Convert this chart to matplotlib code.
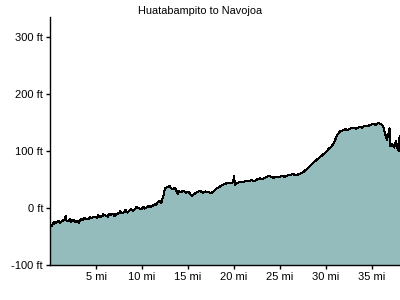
import matplotlib
matplotlib.use("Agg")
import matplotlib.pyplot as plt

# elevation profile, miles vs feet
miles = [0.0, 0.1, 0.2, 0.3, 0.4, 0.5, 0.6, 0.8, 1.0, 1.1, 1.2, 1.4, 1.6, 1.7, 1.8, 2.0,
         2.2, 2.3, 2.6, 2.8, 3.0, 3.1, 3.3, 3.6, 3.7, 3.9, 4.2, 4.3, 4.5, 4.8,
         5.1, 5.2, 5.4, 5.7, 5.8, 6.0, 6.3, 6.4, 6.6, 6.9, 7.0, 7.2, 7.5, 7.6,
         7.8, 8.1, 8.2, 8.4, 8.7, 8.8, 9.0, 9.3, 9.4, 9.6, 9.9, 10.2, 10.3,
         10.5, 10.8, 10.9, 11.1, 11.4, 11.5, 11.7, 12.0, 12.1, 12.2, 12.3, 12.5,
         12.8, 13.0, 13.3, 13.6, 13.9, 14.0, 14.2, 14.5, 14.8, 15.1, 15.4, 15.7,
         16.0, 16.3, 16.6, 16.9, 17.2, 17.5, 17.8, 18.1, 18.4, 18.7, 19.0, 19.3,
         19.6, 19.9, 20.0, 20.1, 20.4, 20.7, 21.0, 21.3, 21.6, 21.9, 22.2, 22.5,
         22.8, 23.1, 23.4, 23.7, 24.0, 24.3, 24.6, 24.9, 25.2, 25.5, 25.8, 26.1,
         26.4, 26.7, 27.0, 27.3, 27.6, 27.9, 28.2, 28.5, 28.8, 29.1, 29.4, 29.7,
         30.0, 30.3, 30.6, 30.9, 31.2, 31.5, 31.8, 32.1, 32.4, 32.7, 33.0, 33.3,
         33.6, 33.9, 34.2, 34.5, 34.8, 35.1, 35.4, 35.7, 36.0, 36.2, 36.4, 36.6,
         36.8, 36.9, 37.0, 37.2, 37.4, 37.6, 37.8, 37.9, 38.0]
elev_ft = [-35, -29, -32, -27, -28, -24, -27, -24, -23, -26, -24, -22, -21, -14, -22, -23,
           -20, -24, -21, -25, -22, -26, -20, -21, -17, -20, -19, -16, -18, -15,
           -17, -13, -16, -14, -11, -13, -15, -10, -12, -10, -14, -11, -9, -6,
           -9, -7, -3, -8, -4, -1, -5, -1, 2, 0, -2, 2, -1, 1, 4, 1, 3, 7, 5,
           10, 13, 9, 15, 20, 34, 37, 38, 33, 35, 24, 30, 28, 30, 27, 28, 21, 25,
           28, 30, 27, 29, 28, 26, 29, 34, 37, 40, 42, 44, 43, 45, 56, 41, 44, 46,
           45, 48, 47, 49, 47, 50, 52, 51, 53, 56, 55, 53, 55, 54, 56, 55, 57,
           58, 60, 57, 59, 61, 64, 68, 73, 78, 82, 86, 90, 94, 98, 104, 108, 116,
           128, 134, 136, 138, 137, 140, 141, 139, 142, 141, 144, 143, 146, 147,
           146, 149, 147, 144, 132, 120, 131, 140, 108, 112, 106, 117, 103, 100,
           126]

title = "Huatabampito to Navojoa"
x_ticks = [5, 10, 15, 20, 25, 30, 35]
y_ticks = [-100, 0, 100, 200, 300]

fig = plt.figure(figsize=(4, 3), dpi=100)
ax = fig.add_axes([0.125, 0.1167, 0.875, 0.8266])

ax.fill_between(miles, elev_ft, -100, color="#94bcbc", linewidth=0)
ax.plot(miles, elev_ft, color="black", linewidth=0.75, antialiased=False)

ax.set_xlim(0, 38.04)
ax.set_ylim(-100, 335)
ax.set_xticks(x_ticks)
ax.set_xticklabels([f"{v} mi" for v in x_ticks])
ax.set_yticks(y_ticks)
ax.set_yticklabels([f"{v} ft" for v in y_ticks])

for s in ["top", "right"]:
    ax.spines[s].set_visible(False)
for s in ["left", "bottom"]:
    ax.spines[s].set_linewidth(1)
ax.tick_params(axis="both", labelsize=8, length=3, width=1, pad=2)
for lbl in ax.get_xticklabels() + ax.get_yticklabels():
    lbl.set_family("Liberation Sans")

fig.text(0.5, 0.965, title, ha="center", va="center", fontsize=7.8,
         family="Liberation Sans")

fig.savefig("out.png", dpi=100)
